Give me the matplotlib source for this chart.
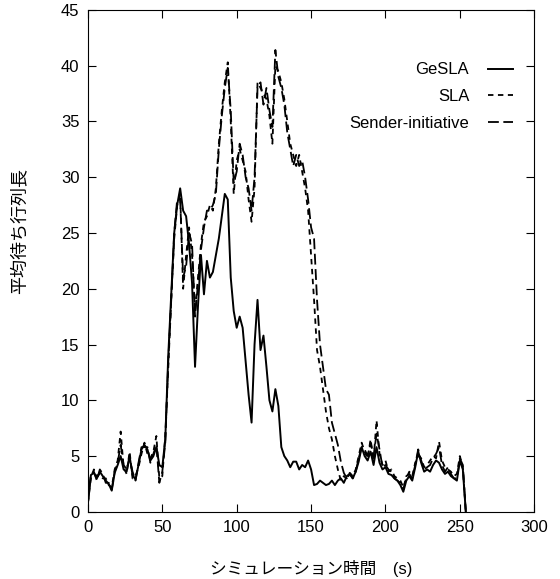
import numpy as np
import matplotlib
matplotlib.use('Agg')
import matplotlib.pyplot as plt

plt.rcParams['font.family'] = ['Liberation Sans', 'Noto Sans CJK JP']

# sample times (s), one reading every 2 s
t = np.arange(0, 256, 2)

gesla = [0.8, 3.3, 3.5, 3.0, 3.6, 3.2, 2.8, 2.5, 1.9, 3.5,
         4.2, 5.0, 3.8, 3.6, 5.0, 3.3, 2.9, 4.2, 5.6, 6.0,
         5.6, 4.6, 5.0, 5.8, 4.2, 4.0, 6.5, 14.0, 19.5, 25.0,
         27.5, 29.0, 27.0, 26.5, 24.0, 20.5, 13.0, 18.5, 23.0, 19.5,
         22.5, 21.0, 21.5, 23.0, 24.5, 26.5, 28.5, 28.0, 21.0, 18.0,
         16.5, 17.5, 16.5, 13.5, 10.5, 8.0, 15.0, 19.0, 14.5, 15.8,
         13.0, 10.0, 9.0, 11.0, 9.5, 5.8, 5.0, 4.6, 4.0, 4.5,
         4.5, 3.8, 4.2, 4.0, 4.6, 3.8, 2.4, 2.5, 2.8, 2.6,
         2.4, 2.5, 2.8, 2.4, 2.8, 3.0, 2.6, 3.2, 3.4, 3.0,
         3.6, 4.5, 5.8, 5.0, 4.6, 5.4, 4.2, 5.8, 4.4, 3.8,
         4.0, 3.4, 3.3, 3.0, 2.8, 2.4, 1.8, 2.8, 3.2, 2.8,
         4.0, 5.4, 4.4, 3.6, 3.8, 3.6, 4.2, 4.6, 4.4, 3.8,
         3.4, 3.6, 3.2, 3.0, 2.8, 4.6, 3.8, 0.0]

sla = [0.8, 3.0, 3.8, 3.2, 3.4, 3.0, 3.0, 2.4, 2.2, 3.8,
       4.6, 7.2, 4.0, 3.4, 5.4, 3.0, 3.2, 4.0, 5.2, 6.2,
       5.2, 4.8, 5.4, 6.8, 3.0, 3.2, 6.8, 13.0, 19.0, 24.5,
       27.5, 28.5, 20.0, 23.0, 25.5, 23.0, 18.0, 21.0, 24.0, 26.0,
       26.5, 27.5, 27.0, 29.0, 33.0, 36.0, 38.5, 40.3, 35.0, 28.5,
       31.5, 32.5, 31.5, 30.5, 28.0, 26.0, 29.0, 38.5, 38.0, 37.5,
       37.0, 35.5, 33.0, 40.0, 39.5, 38.5, 37.0, 35.0, 33.0, 32.0,
       31.0, 32.0, 30.5, 29.0, 27.0, 23.0, 19.0, 14.5, 13.0, 11.0,
       9.0, 7.5, 6.5, 5.0, 3.8, 2.8, 3.2, 3.0, 3.5, 3.2,
       3.8, 5.0, 6.2, 5.4, 4.8, 6.5, 4.6, 8.2, 5.2, 4.2,
       4.6, 3.6, 3.8, 3.2, 3.0, 2.8, 2.2, 3.0, 3.6, 3.2,
       4.4, 5.0, 4.8, 4.0, 4.2, 4.6, 5.0, 4.8, 6.3, 4.6,
       4.0, 3.8, 3.6, 3.2, 3.4, 5.0, 4.0, 0.0]

sender = [0.8, 3.4, 3.6, 2.8, 3.8, 3.4, 2.6, 2.6, 2.0, 3.6,
          4.4, 6.0, 4.2, 3.8, 4.8, 3.6, 2.8, 4.4, 5.8, 5.8,
          5.8, 4.4, 5.2, 6.0, 2.6, 3.6, 6.2, 13.5, 19.0, 25.0,
          28.0, 28.0, 21.0, 22.0, 25.0, 24.0, 17.5, 20.5, 23.5, 25.5,
          27.0, 27.0, 27.5, 28.5, 32.5, 35.5, 38.0, 39.8, 36.0, 29.5,
          30.5, 33.0, 32.0, 30.0, 29.0, 27.0, 30.0, 38.0, 38.5, 36.5,
          38.0, 36.0, 34.5, 41.4, 39.0, 38.0, 36.5, 34.0, 32.5, 31.0,
          32.0, 31.0, 31.5, 30.0, 28.0, 25.5, 24.5, 19.0, 15.0, 13.0,
          11.0, 10.5, 8.0, 7.0, 6.0, 4.5, 3.5, 3.0, 3.4, 3.0,
          3.6, 4.8, 5.8, 5.6, 5.0, 6.2, 5.0, 7.0, 5.6, 4.0,
          4.2, 3.8, 3.6, 3.0, 2.8, 2.6, 2.0, 3.2, 3.4, 3.0,
          4.2, 5.6, 4.6, 3.8, 4.0, 4.2, 4.8, 5.2, 5.8, 4.2,
          3.6, 4.0, 3.4, 3.0, 3.0, 4.8, 4.2, 0.0]

fig = plt.figure(figsize=(5.6, 5.79), dpi=100)
ax = fig.add_axes([0.157, 0.116, 0.797, 0.867])

ax.plot(t, gesla, color='black', lw=1.4, label='GeSLA')
ax.plot(t, sla, color='black', lw=1.3, dashes=(3, 2.5), label='SLA')
ax.plot(t, sender, color='black', lw=1.3, dashes=(6, 2.5), label='Sender-initiative')

ax.set_xlim(0, 300)
ax.set_ylim(0, 45)
ax.set_xticks(range(0, 301, 50))
ax.set_yticks(range(0, 46, 5))
ax.tick_params(direction='in', top=True, right=True, labelsize=12, length=6, pad=6)

ax.set_xlabel('シミュレーション時間　(s)', fontsize=12, labelpad=18)
ax.set_ylabel('平均待ち行列長', fontsize=13)
ax.yaxis.set_label_coords(-0.134, 0.56)

ax.legend(frameon=False, markerfirst=False, loc='upper right',
          bbox_to_anchor=(0.985, 0.925), fontsize=12, handlelength=1.5,
          handletextpad=1.1, labelspacing=0.7)

fig.savefig('out.png', dpi=100)
